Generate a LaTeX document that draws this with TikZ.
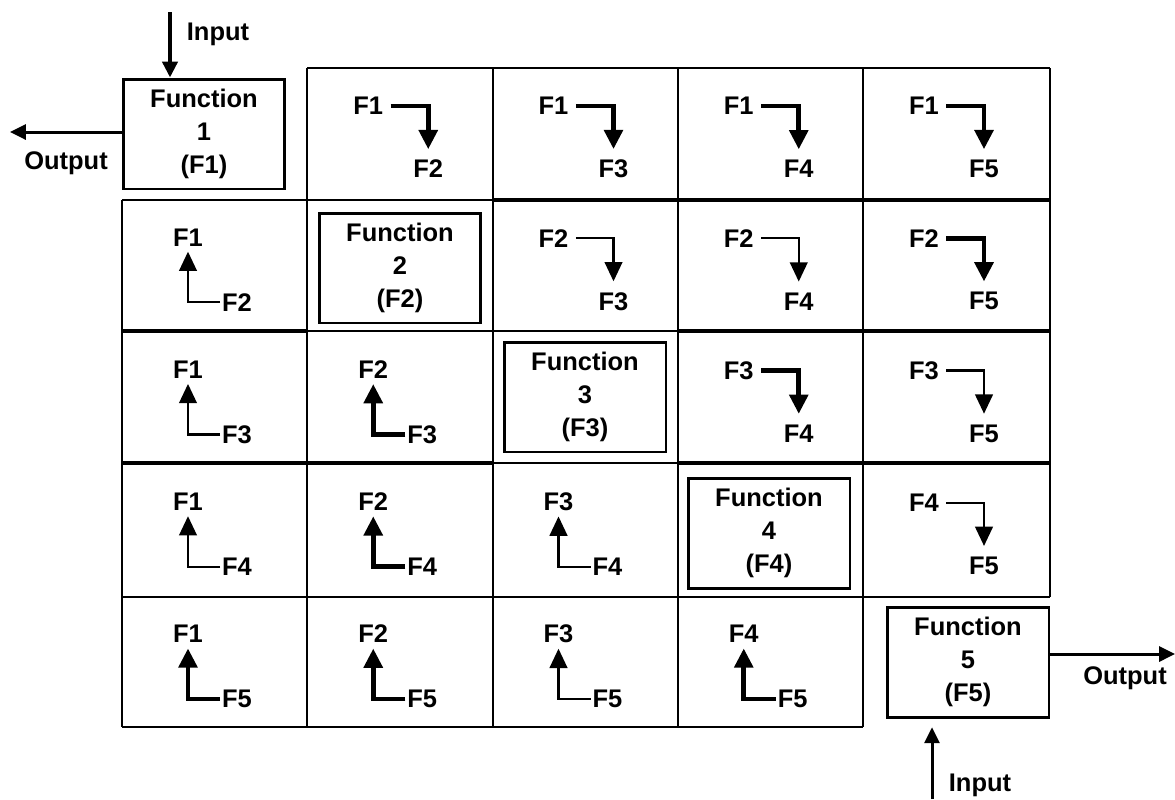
\documentclass[tikz,border=0pt]{standalone}
\usepackage{fontspec}
\setmainfont{Liberation Sans}
\usetikzlibrary{arrows.meta}

\begin{document}
\begin{tikzpicture}[
    x=0.02cm, y=-0.02cm,
    font=\bfseries\fontsize{14.5}{19}\selectfont,
    grid/.style={line width=1.4pt},
    sep/.style={line width=2.6pt},
    func/.style={draw, line width=1.7pt, align=center, inner sep=0pt, minimum width=3.24cm, minimum height=2.2cm},
    flab/.style={inner sep=1pt},
    flowthin/.style={line width=1.4pt, -{Triangle[width=10pt,length=11pt]}},
    flowthick/.style={line width=2.7pt, -{Triangle[width=10.5pt,length=11pt]}},
    io/.style={line width=1.7pt, -{Triangle[width=8.5pt,length=9pt]}}
]
\useasboundingbox (0,0) rectangle (1175,799);

% matrix grid
\draw[grid] (307,68) -- (1050,68);
\foreach \y in {200,331,463,597} \draw[grid] (122,\y) -- (1050,\y);
\draw[grid] (122,727) -- (863,727);
\draw[grid] (122,200) -- (122,727);
\foreach \x in {307,493,678,863} \draw[grid] (\x,68) -- (\x,727);
\draw[grid] (1050,68) -- (1050,597);
\draw[sep] (493,200) -- (1050,200);
\draw[sep] (122,331) -- (307,331) (678,331) -- (1050,331);
\draw[sep] (122,463) -- (493,463) (678,463) -- (1050,463);

% functions on the diagonal
\node[func] (f1) at (204,134) {Function\\1\\(F1)};
\node[func] (f2) at (400,268) {Function\\2\\(F2)};
\node[func] (f3) at (585,397) {Function\\3\\(F3)};
\node[func] (f4) at (769,533) {Function\\4\\(F4)};
\node[func] (f5) at (968,662) {Function\\5\\(F5)};

% flows above the diagonal
\foreach \r/\c/\w in {1/2/flowthick,1/3/flowthick,1/4/flowthick,1/5/flowthick,
    2/3/flowthin,2/4/flowthin,2/5/flowthick,3/4/flowthick,3/5/flowthin,4/5/flowthin}{
  \pgfmathsetmacro\cx{122+185.25*(\c-1)}
  \pgfmathsetmacro\cy{68+132.25*(\r-1)}
  \node[flab] (s\r\c) at (\cx+61,\cy+38) {F\r};
  \node[flab] (t\r\c) at (\cx+121,\cy+101) {F\c};
  \draw[\w, shorten <=3pt, shorten >=5pt] (s\r\c.east) -| (t\r\c.north);
}

% flows below the diagonal
\foreach \r/\c/\w in {2/1/flowthin,3/1/flowthin,3/2/flowthick,4/1/flowthin,4/2/flowthick,
    4/3/flowthin,5/1/flowthick,5/2/flowthick,5/3/flowthin,5/4/flowthick}{
  \pgfmathsetmacro\cx{122+185.25*(\c-1)}
  \pgfmathsetmacro\cy{68+132.25*(\r-1)}
  \node[flab] (s\r\c) at (\cx+66,\cy+37) {F\c};
  \node[flab] (t\r\c) at (\cx+115,\cy+102) {F\r};
  \draw[\w, shorten >=2pt] (t\r\c.west) -| (s\r\c.south);
}

% inputs and outputs
\coordinate (in1) at (170,12);
\coordinate (out1) at (10,132);
\coordinate (out5) at (1175,654);
\coordinate (in5) at (932,799);
\draw[io, line width=2.4pt] (in1) -- (in1 |- f1.north);
\draw[io] (f1.west |- out1) -- (out1);
\draw[io] (f5.east |- out5) -- (out5);
\draw[io, shorten >=5pt] (in5) -- (in5 |- f5.south);
\node (inlab1) at (218,34) {Input};
\node (outlab1) at (66,163) {Output};
\node (outlab5) at (1125,678) {Output};
\node (inlab5) at (980,785) {Input};
\end{tikzpicture}
\end{document}
